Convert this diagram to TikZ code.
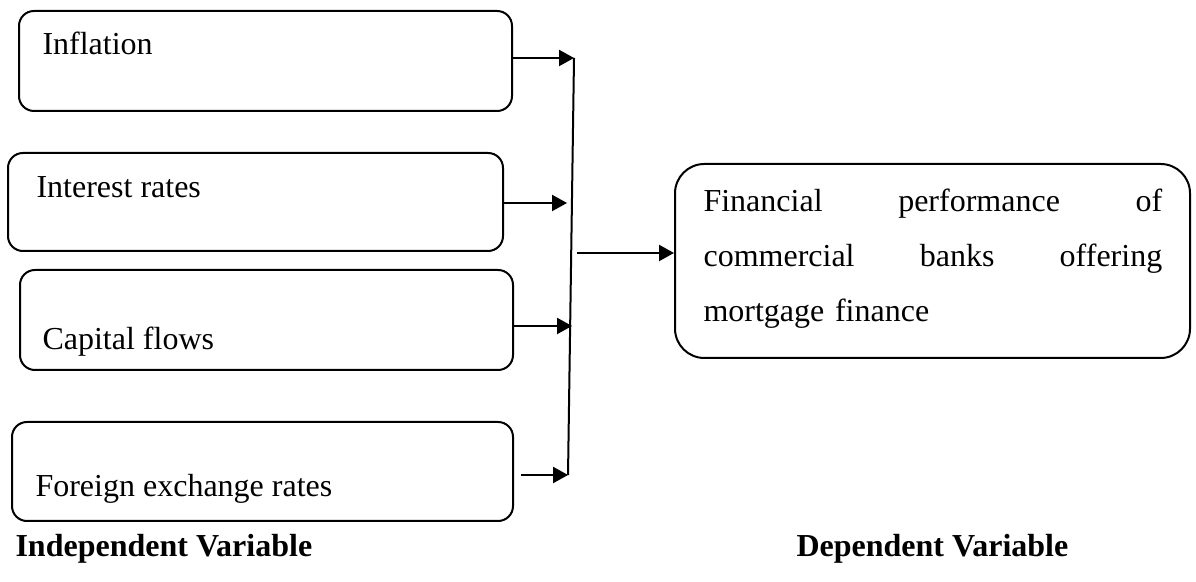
\documentclass[tikz,border=0pt]{standalone}
\usepackage{fontspec}
\setmainfont{Liberation Serif}
\usetikzlibrary{fit,arrows.meta}

\tikzset{
  ivbox/.style={draw, line width=0.75pt, rounded corners=5.6pt, inner sep=0pt},
  dvbox/.style={draw, line width=0.75pt, rounded corners=11pt, inner sep=0pt},
  boxtext/.style={anchor=base west, inner sep=0pt, font=\fontsize{12}{14}\selectfont},
  vartext/.style={anchor=base west, inner sep=0pt, font=\fontsize{12}{14}\selectfont\bfseries},
  arr/.style={line width=0.75pt, -{Triangle[length=5.6pt,width=6pt]}}
}

\begin{document}
\begin{tikzpicture}[x=0.375pt,y=-0.375pt]
\useasboundingbox (0,0) rectangle (1196,582);
% independent variables
\node[ivbox, fit={(19,11) (512,111)}] (inflation) {};
\node[ivbox, fit={(8,153) (503,251)}] (interest) {};
\node[ivbox, fit={(20,270) (513,370)}] (capital) {};
\node[ivbox, fit={(12,422) (513,521)}] (forex) {};
\node[boxtext] (inflationtxt) at (42,55) {Inflation};
\node[boxtext] (interesttxt) at (36,198) {Interest rates};
\node[boxtext] (capitaltxt) at (42,350) {Capital flows};
\node[boxtext] (forextxt) at (35,497) {Foreign exchange rates};
% dependent variable
\node[dvbox, fit={(675,164) (1190,358)}] (perf) {};
\node[boxtext, text width=172pt, align=left, font=\fontsize{12}{20.6}\selectfont] (perftxt) at (703,212)
  {Financial\hfill performance\hfill of\\ commercial\hfill banks\hfill offering\\ mortgage finance};
% joining line
\coordinate (t1) at (574,58);
\coordinate (t2) at (567,203);
\coordinate (t3) at (572,326);
\coordinate (t4) at (568,475);
\coordinate (s1) at (inflation.east |- t1);
\coordinate (s2) at (interest.east |- t2);
\coordinate (s3) at (capital.east |- t3);
\coordinate (s4) at (521,475);
\draw[line width=0.75pt] (t1) -- (t4);
\foreach \i in {1,...,4}
  \draw[arr] (s\i) -- (t\i);
\coordinate (s5) at (577,253);
\draw[arr] (s5) -- (s5 -| perf.west);
% labels
\node[vartext] (ivlabel) at (15,556) {Independent Variable};
\node[vartext] (dvlabel) at (796,556) {Dependent Variable};
\end{tikzpicture}
\end{document}
